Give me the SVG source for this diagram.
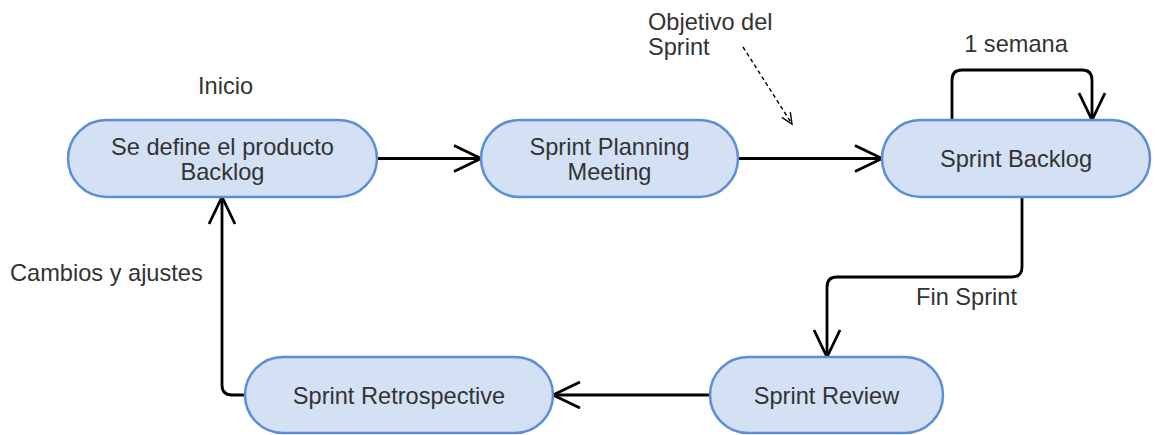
<svg xmlns="http://www.w3.org/2000/svg" width="1156" height="435" viewBox="0 0 1156 435">
  <style>
    .node { fill: #d4e1f5; stroke: #5b8ed6; stroke-width: 2.5; }
    .txt { font-family: "Liberation Sans", Arial, sans-serif; font-size: 23.6px; fill: #333333; }
    .mid { text-anchor: middle; }
    .edge { fill: none; stroke: #000000; stroke-width: 2.8; stroke-linejoin: round; marker-end: url(#open); }
    .hint { fill: none; stroke: #000000; stroke-width: 1.4; stroke-dasharray: 4 3; marker-end: url(#openSmall); }
  </style>
  <defs>
    <marker id="open" markerUnits="userSpaceOnUse" markerWidth="34" markerHeight="34" refX="28" refY="14" orient="auto" overflow="visible">
      <path d="M1,1 L28,14 L1,27" fill="none" stroke="#000000" stroke-width="2.8" stroke-linejoin="miter"/>
    </marker>
    <marker id="openSmall" markerUnits="userSpaceOnUse" markerWidth="16" markerHeight="16" refX="12" refY="6" orient="auto" overflow="visible">
      <path d="M1,1 L12,6 L1,11" fill="none" stroke="#000000" stroke-width="1.4"/>
    </marker>
  </defs>

  <rect width="1156" height="435" fill="#ffffff"/>

  <g id="connectors">
    <path class="edge" d="M377,158.5 L481,158.5"/>
    <path class="edge" d="M738,158.5 L882,158.5"/>
    <path class="edge" d="M952,120 L952,80 Q952,70 962,70 L1082,70 Q1092,70 1092,80 L1092,120"/>
    <path class="edge" d="M1022,197 L1022,267 Q1022,277 1012,277 L837,277 Q827,277 827,287 L827,357"/>
    <path class="edge" d="M710,395 L553,395"/>
    <path class="edge" d="M245,395 L232,395 Q222,395 222,385 L222,197"/>
    <path class="hint" d="M743,47 L792,124"/>
  </g>

  <g id="labels">
    <text class="txt" x="198" y="94">Inicio</text>
    <text class="txt" x="648" y="30">Objetivo del</text>
    <text class="txt" x="648" y="55">Sprint</text>
    <text class="txt mid" x="1016" y="52">1 semana</text>
    <text class="txt" x="916" y="305">Fin Sprint</text>
    <text class="txt" x="10" y="281">Cambios y ajustes</text>
  </g>

  <g id="product-backlog">
    <rect class="node" x="68" y="120" width="309" height="77" rx="38.5"/>
    <text class="txt mid" x="222.5" y="155">Se define el producto</text>
    <text class="txt mid" x="222.5" y="180">Backlog</text>
  </g>

  <g id="sprint-planning">
    <rect class="node" x="481" y="120" width="257" height="77" rx="38.5"/>
    <text class="txt mid" x="609.5" y="155">Sprint Planning</text>
    <text class="txt mid" x="609.5" y="180">Meeting</text>
  </g>

  <g id="sprint-backlog">
    <rect class="node" x="882" y="120" width="268" height="77" rx="38.5"/>
    <text class="txt mid" x="1016" y="167">Sprint Backlog</text>
  </g>

  <g id="sprint-review">
    <rect class="node" x="710" y="357" width="233" height="76" rx="38"/>
    <text class="txt mid" x="826.5" y="404">Sprint Review</text>
  </g>

  <g id="sprint-retrospective">
    <rect class="node" x="245" y="357" width="308" height="76" rx="38"/>
    <text class="txt mid" x="399" y="404">Sprint Retrospective</text>
  </g>
</svg>
